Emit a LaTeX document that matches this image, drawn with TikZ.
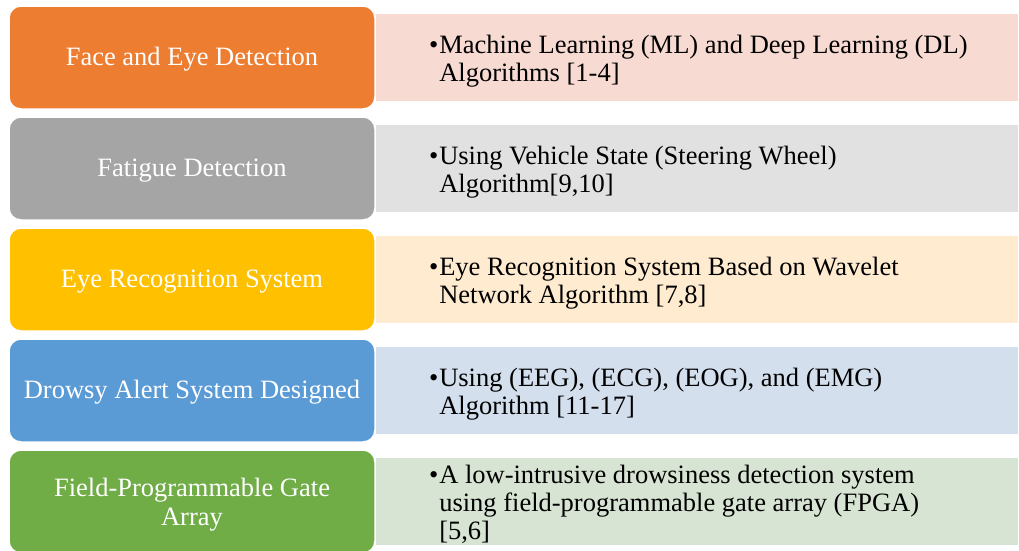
\documentclass[tikz,border=0pt]{standalone}
\usepackage{fontspec}
\setmainfont{Liberation Serif}
\definecolor{cOrange}{HTML}{ED7D31}
\definecolor{cGray}{HTML}{A5A5A5}
\definecolor{cYellow}{HTML}{FFC000}
\definecolor{cBlue}{HTML}{5B9BD5}
\definecolor{cGreen}{HTML}{70AD47}
\definecolor{lOrange}{HTML}{F7DAD2}
\definecolor{lGray}{HTML}{E1E1E1}
\definecolor{lYellow}{HTML}{FEEBD0}
\definecolor{lBlue}{HTML}{D4DFEE}
\definecolor{lGreen}{HTML}{D8E4D3}
\newcommand{\itemrows}[1]{\begin{tabular}{@{}l@{\hspace{1pt}}l@{}}#1\end{tabular}}
\begin{document}
\begin{tikzpicture}[x=1pt,y=-1pt,
  catbox/.style={draw=white, line width=1.5pt, rounded corners=12pt,
    minimum width=366pt, minimum height=103pt, inner sep=0pt},
  cattext/.style={inner sep=0pt, text=white, align=center,
    font=\fontsize{26.5}{29}\selectfont},
  descbox/.style={minimum width=642pt, minimum height=87pt, inner sep=0pt},
  desctext/.style={anchor=west, inner sep=0pt, text=black,
    font=\fontsize{26.5}{28.3}\selectfont}]
\clip (0,0) rectangle (1019,550);
\fill[white] (0,0) rectangle (1019,550);

% description panels (behind the category boxes)
\node[descbox, fill=lOrange] (d1) at (697,57.5) {};
\node[descbox, fill=lGray]   (d2) at (697,168.5) {};
\node[descbox, fill=lYellow] (d3) at (697,279.5) {};
\node[descbox, fill=lBlue]   (d4) at (697,390.5) {};
\node[descbox, fill=lGreen]  (d5) at (697,501.5) {};

% category boxes
\node[catbox, fill=cOrange] (c1) at (192,57.5)  {};
\node[catbox, fill=cGray]   (c2) at (192,168.5) {};
\node[catbox, fill=cYellow] (c3) at (192,279.5) {};
\node[catbox, fill=cBlue]   (c4) at (192,390.5) {};
\node[catbox, fill=cGreen]  (c5) at (192,501.5) {};

% category titles
\node[cattext] (n1) at ([yshift=-2pt]c1.center) {Face and Eye Detection};
\node[cattext] (n2) at ([yshift=-2pt]c2.center) {Fatigue Detection};
\node[cattext] (n3) at ([yshift=-2pt]c3.center) {Eye Recognition System};
\node[cattext] (n4) at ([yshift=-2pt]c4.center) {Drowsy Alert System Designed};
\node[cattext] (n5) at ([yshift=-3pt]c5.center) {Field-Programmable Gate\\Array};

% bullet texts
\node[desctext] (t1) at ([xshift=53pt,yshift=-4.5pt]d1.west)
  {\itemrows{\textbullet & Machine Learning (ML) and Deep Learning (DL)\\ & Algorithms [1-4]}};
\node[desctext] (t2) at ([xshift=53pt,yshift=-4.5pt]d2.west)
  {\itemrows{\textbullet & Using Vehicle State (Steering Wheel)\\ & Algorithm[9,10]}};
\node[desctext] (t3) at ([xshift=53pt,yshift=-4.5pt]d3.west)
  {\itemrows{\textbullet & Eye Recognition System Based on Wavelet\\ & Network Algorithm [7,8]}};
\node[desctext] (t4) at ([xshift=53pt,yshift=-4.5pt]d4.west)
  {\itemrows{\textbullet & Using (EEG), (ECG), (EOG), and (EMG)\\ & Algorithm [11-17]}};
\node[desctext] (t5) at ([xshift=53pt,yshift=-4.5pt]d5.west)
  {\itemrows{\textbullet & A low-intrusive drowsiness detection system\\ & using field-programmable gate array (FPGA)\\ & [5,6]}};
\end{tikzpicture}
\end{document}
